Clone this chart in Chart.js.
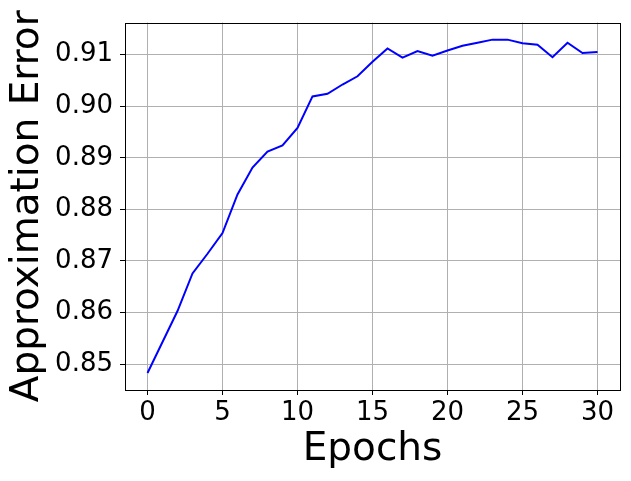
<!DOCTYPE html>
<html>
<head>
<meta charset="utf-8">
<script src="https://cdn.jsdelivr.net/npm/chart.js@4"></script>
<style>
  body { margin: 0; background: #fff; }
  #wrap { width: 631px; height: 481px; }
</style>
</head>
<body>
<div id="wrap"><canvas id="chart"></canvas></div>
<script>
// values
const epochs = [0, 1, 2, 3, 4, 5, 6, 7, 8, 9, 10, 11, 12, 13, 14, 15,
                16, 17, 18, 19, 20, 21, 22, 23, 24, 25, 26, 27, 28, 29, 30];
const approxError = [0.8483, 0.8543, 0.8603, 0.8676, 0.8714, 0.8754, 0.8829, 0.8881,
                     0.8912, 0.8924, 0.8958, 0.9019, 0.9024, 0.9042, 0.9058, 0.9086,
                     0.9112, 0.9094, 0.9107, 0.9098, 0.9108, 0.9117, 0.9123, 0.9129,
                     0.9129, 0.9122, 0.9119, 0.9095, 0.9123, 0.9103, 0.9105];
const xTicks = [0, 5, 10, 15, 20, 25, 30];
const yTicks = [0.85, 0.86, 0.87, 0.88, 0.89, 0.90, 0.91];

const font = 'DejaVu Sans';
const gridColor = '#b0b0b0';

// black box round the plot area
const frame = {
  id: 'frame',
  afterDraw(chart) {
    const a = chart.chartArea;
    const c = chart.ctx;
    c.save();
    c.strokeStyle = '#000';
    c.lineWidth = 1;
    c.strokeRect(Math.round(a.left) + 0.5, Math.round(a.top) + 0.5,
                 Math.round(a.right - a.left), Math.round(a.bottom - a.top));
    c.restore();
  }
};

new Chart(document.getElementById('chart'), {
  type: 'line',
  data: {
    datasets: [{
      data: epochs.map((e, i) => ({ x: e, y: approxError[i] })),
      borderColor: '#0000ff',
      borderWidth: 2,
      pointRadius: 0,
      tension: 0,
      fill: false
    }]
  },
  options: {
    responsive: true,
    maintainAspectRatio: false,
    animation: false,
    layout: { padding: { top: 20, right: 11, left: 4, bottom: 8 } },
    plugins: { legend: { display: false }, tooltip: { enabled: false } },
    scales: {
      x: {
        type: 'linear',
        min: -1.5,
        max: 31.5,
        afterBuildTicks: s => { s.ticks = xTicks.map(v => ({ value: v })); },
        afterFit: s => { s.height = 83; },
        grid: { color: gridColor, lineWidth: 1, tickColor: '#000', tickLength: 5 },
        border: { display: false },
        ticks: { color: '#000', font: { family: font, size: 26 }, padding: 3, maxRotation: 0 },
        title: { display: true, text: 'Epochs', color: '#000',
                 font: { family: font, size: 39 }, padding: { top: 0, bottom: 0 } }
      },
      y: {
        type: 'linear',
        min: 0.8450,
        max: 0.9162,
        afterBuildTicks: s => { s.ticks = yTicks.map(v => ({ value: v })); },
        afterFit: s => { s.width = 121; },
        grid: { color: gridColor, lineWidth: 1, tickColor: '#000', tickLength: 5 },
        border: { display: false },
        ticks: { color: '#000', font: { family: font, size: 26 }, padding: 7,
                 callback: v => v.toFixed(2) },
        title: { display: true, text: 'Approximation Error', color: '#000',
                 font: { family: font, size: 39 }, padding: { top: 0, bottom: 0 } }
      }
    }
  },
  plugins: [frame]
});
</script>
</body>
</html>
